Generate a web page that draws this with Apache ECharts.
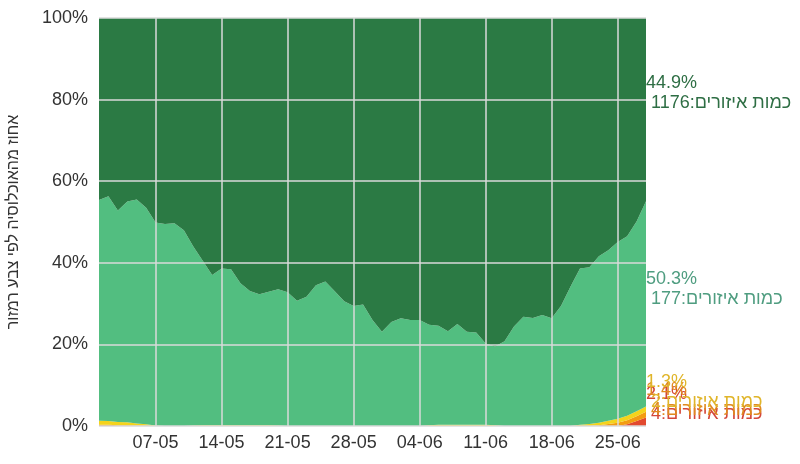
<!DOCTYPE html>
<html>
<head>
<meta charset="utf-8">
<script src="https://cdn.jsdelivr.net/npm/echarts@6/dist/echarts.min.js"></script>
<style>html,body{margin:0;padding:0;background:#fff}#c{width:800px;height:464px}</style>
</head>
<body>
<div id="c"></div>
<script>
const dates = ["01-05","02-05","03-05","04-05","05-05","06-05","07-05","08-05","09-05","10-05","11-05","12-05","13-05","14-05","15-05","16-05","17-05","18-05","19-05","20-05","21-05","22-05","23-05","24-05","25-05","26-05","27-05","28-05","29-05","30-05","31-05","01-06","02-06","03-06","04-06","05-06","06-06","07-06","08-06","09-06","10-06","11-06","12-06","13-06","14-06","15-06","16-06","17-06","18-06","19-06","20-06","21-06","22-06","23-06","24-06","25-06","26-06","27-06","28-06"];
const red = [0,0,0,0,0,0,0,0,0,0, 0,0,0,0,0,0,0,0,0,0, 0,0,0,0,0,0,0,0,0,0, 0,0,0,0,0,0,0,0,0,0, 0,0,0,0,0,0,0,0,0,0, 0,0,0,0,0,0,0.4,1.2,2.1];
const orange = [0.3,0.3,0.2,0.2,0.1,0.1,0,0,0,0, 0,0,0,0,0,0,0,0,0,0, 0,0,0,0,0,0,0,0,0,0, 0,0,0,0,0,0,0,0,0,0, 0,0,0,0,0,0,0,0,0,0, 0,0,0,0.2,0.5,0.8,1.0,1.2,1.4];
const yellow = [1.0,0.9,0.8,0.7,0.5,0.3,0.1,0,0,0, 0.1,0.2,0.2,0.2,0.2,0.2,0.2,0.2,0.2,0.1, 0,0,0,0,0,0,0,0,0,0, 0,0,0,0,0,0.2,0.3,0.3,0.3,0.3, 0.3,0.3,0.2,0,0,0,0,0,0,0, 0,0.3,0.5,0.6,0.8,1.0,1.1,1.2,1.3];
const lightGreen = [54.1,55.1,51.8,54.1,54.9,53.1,49.8,49.5,49.7,48.0, 43.9,40.3,36.8,38.4,38.2,34.8,32.9,32.1,32.7,33.4, 32.8,30.7,31.7,34.5,35.4,33.0,30.6,29.4,29.8,26.0, 23.1,25.5,26.4,26.0,26.0,24.6,24.3,22.9,24.7,22.8, 22.6,19.9,19.3,20.8,24.4,26.8,26.5,27.2,26.4,29.5, 34.2,38.3,38.4,40.8,41.8,43.3,44.0,46.5,50.3];
const darkGreen = [44.6,43.7,47.2,45.0,44.5,46.5,50.1,50.5,50.3,52.0, 56.0,59.5,63.0,61.4,61.6,65.0,66.9,67.7,67.1,66.5, 67.2,69.3,68.3,65.5,64.6,67.0,69.4,70.6,70.2,74.0, 76.9,74.5,73.6,74.0,74.0,75.2,75.4,76.8,75.0,76.9, 77.1,79.8,80.5,79.2,75.6,73.2,73.5,72.8,73.6,70.5, 65.8,61.4,61.1,58.4,56.9,54.9,53.5,49.9,44.9];
const areaCounts = {red: 4, orange: 4, yellow: 2, lightGreen: 177, darkGreen: 1176};
const yAxisTitle = "אחוז מהאוכלוסיה לפי צבע רמזור";
const countText = "כמות איזורים";

const tickEvery = (i) => (i - 6) % 7 === 0 && i >= 6;

function mk(name, data, fill, textColor, count, dy) {
  const last = data.length - 1;
  return {
    name, type: 'line', stack: 'all', symbol: 'none', smooth: false,
    lineStyle: {width: 0}, areaStyle: {color: fill, opacity: 1}, itemStyle: {color: fill},
    endLabel: {
      show: true, distance: 0, offset: [0, dy],
      color: textColor, fontSize: 18, lineHeight: 20, align: 'left',
      fontFamily: 'Liberation Sans, Arial, sans-serif',
      formatter: () => data[last].toFixed(1) + '%\n ' + count + ':' + countText
    },
    data: data
  };
}

const chart = echarts.init(document.getElementById('c'), null, {renderer: 'canvas'});
chart.setOption({
  animation: false,
  textStyle: {fontFamily: 'Liberation Sans, Arial, sans-serif'},
  grid: {left: 99, right: 154, top: 18, bottom: 38, outerBoundsMode: 'none', containLabel: false},
  xAxis: {
    type: 'category', data: dates, boundaryGap: false, z: 10,
    axisLine: {show: false}, axisTick: {show: false},
    axisLabel: {interval: tickEvery, color: '#333', fontSize: 18, margin: 8},
    splitLine: {show: true, interval: tickEvery, lineStyle: {color: '#dadada', width: 1.5}}
  },
  yAxis: {
    type: 'value', min: 0, max: 100, interval: 20, z: 10,
    name: yAxisTitle, nameLocation: 'middle', nameGap: 77,
    nameTextStyle: {color: '#333', fontSize: 16},
    axisLine: {show: false}, axisTick: {show: false},
    axisLabel: {formatter: '{value}%', color: '#333', fontSize: 18, margin: 11},
    splitLine: {show: true, lineStyle: {color: '#dadada', width: 1.5}}
  },
  series: [
    mk('red', red, '#e2492f', '#d4473a', areaCounts.red, -13),
    mk('orange', orange, '#f39c12', '#e08a1e', areaCounts.orange, -12),
    mk('yellow', yellow, '#f5d31c', '#e0b52a', areaCounts.yellow, -14),
    mk('lightGreen', lightGreen, '#52be80', '#4f9d80', areaCounts.lightGreen, 88),
    mk('darkGreen', darkGreen, '#2b7a44', '#2e6e44', areaCounts.darkGreen, 75)
  ]
});
</script>
</body>
</html>
